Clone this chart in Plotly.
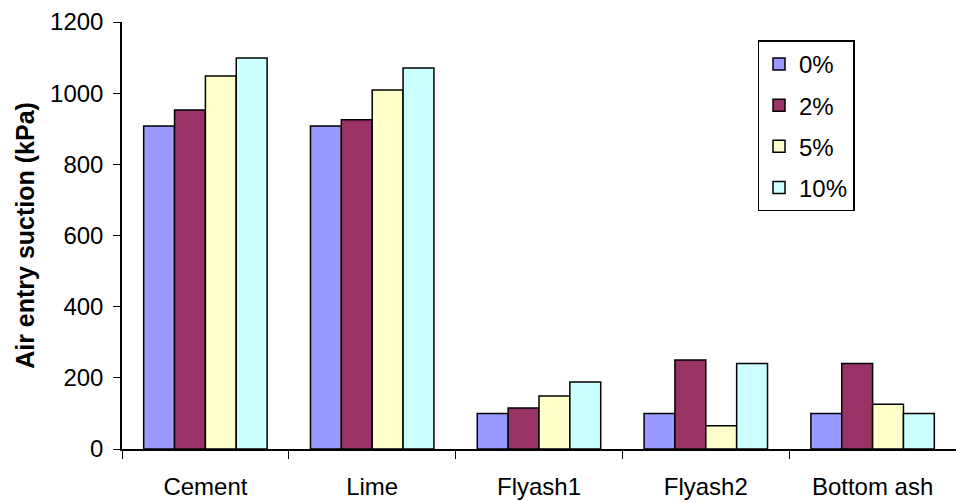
import plotly.graph_objects as go

categories = ["Cement", "Lime", "Flyash1", "Flyash2", "Bottom ash"]
series_names = ["0%", "2%", "5%", "10%"]
values_0 = [908, 908, 100, 100, 100]
values_2 = [953, 925, 115, 250, 240]
values_5 = [1048, 1009, 149, 65, 126]
values_10 = [1099, 1071, 188, 240, 100]
colors = ["#9999FF", "#993366", "#FFFFCC", "#CCFFFF"]

fig = go.Figure()
for name, vals, col in zip(series_names, [values_0, values_2, values_5, values_10], colors):
    fig.add_trace(go.Bar(
        x=categories, y=vals, name=name, legendgroup=name,
        marker=dict(color=col, line=dict(color="black", width=1.5)),
    ))

font = "Liberation Sans, Arial, sans-serif"
fig.update_layout(
    width=956, height=502,
    margin=dict(l=122, r=0, t=22, b=53),
    paper_bgcolor="white", plot_bgcolor="white",
    barmode="group", bargap=0.26, bargroupgap=0,
    font=dict(family=font, size=24, color="black"),
    legend=dict(
        x=0.762, y=0.957, xanchor="left", yanchor="top",
        bordercolor="black", borderwidth=1.5, bgcolor="white",
        font=dict(size=24), tracegroupgap=7,
    ),
    xaxis=dict(
        showline=True, linecolor="black", linewidth=1.5,
        ticks="outside", tickson="boundaries", ticklen=8, tickcolor="black",
        tickfont=dict(size=24), showgrid=False, ticklabelstandoff=15,
    ),
    yaxis=dict(
        range=[0, 1200], tickvals=[0, 200, 400, 600, 800, 1000, 1200],
        showline=True, linecolor="black", linewidth=1.5,
        ticks="outside", ticklen=7, tickcolor="black",
        tickfont=dict(size=24), showgrid=False, zeroline=False, ticklabelstandoff=5,
        title=dict(text="<b>Air entry suction (kPa)</b>", font=dict(size=25), standoff=8),
    ),
)
fig.write_html("out.html")
